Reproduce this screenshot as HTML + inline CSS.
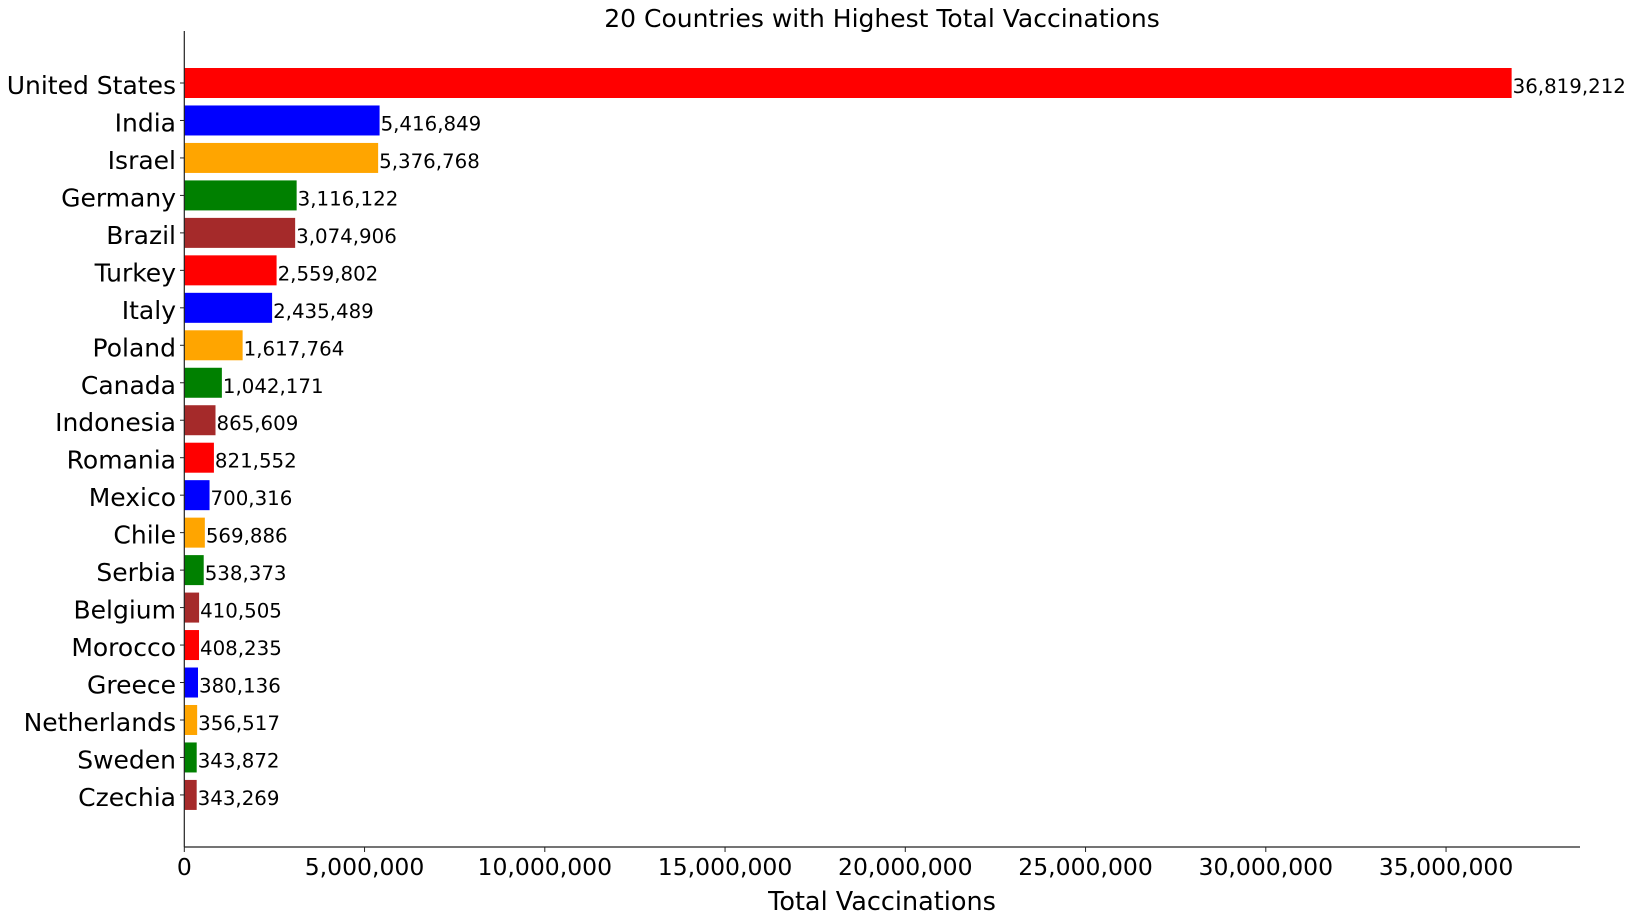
<!DOCTYPE html>
<html><head><meta charset="utf-8"><style>
html,body{margin:0;padding:0;background:#fff;}
svg{display:block;font-family:"DejaVu Sans","Liberation Sans",sans-serif;}
</style></head><body>
<svg id="chart" width="1634" height="919">
<text x="882" y="27" font-size="25" text-anchor="middle">20 Countries with Highest Total Vaccinations</text>
<g id="bars"></g>
<g id="yaxis"></g>
<g id="xaxis"></g>
<line x1="184.3" y1="31" x2="184.3" y2="847" stroke="#222" stroke-width="1.2"/>
<line x1="184.3" y1="847" x2="1580" y2="847" stroke="#222" stroke-width="1.2"/>
<text x="882" y="910" font-size="25.5" text-anchor="middle">Total Vaccinations</text>
</svg>
<script>
const countries = ["United States","India","Israel","Germany","Brazil","Turkey","Italy","Poland","Canada","Indonesia","Romania","Mexico","Chile","Serbia","Belgium","Morocco","Greece","Netherlands","Sweden","Czechia"];
const values = [36819212,5416849,5376768,3116122,3074906,2559802,2435489,1617764,1042171,865609,821552,700316,569886,538373,410505,408235,380136,356517,343872,343269];
const colors = ["red","blue","orange","green","brown"];
const xTicks = [0,5000000,10000000,15000000,20000000,25000000,30000000,35000000];
const NS="http://www.w3.org/2000/svg";
const x0=184.3, pxPer=36.05/1e6;
function xs(v){return x0+v*pxPer;}
function ys(i){return 83+i*37.47;}
function fmt(v){return v.toLocaleString('en-US');}
const bars=document.getElementById('bars'), ya=document.getElementById('yaxis'), xa=document.getElementById('xaxis');
countries.forEach((c,i)=>{
  const r=document.createElementNS(NS,'rect');
  r.setAttribute('x',x0);r.setAttribute('y',ys(i)-15);
  r.setAttribute('width',xs(values[i])-x0);r.setAttribute('height',30);
  r.setAttribute('fill',colors[i%5]);
  
  
  bars.appendChild(r);
  const t=document.createElementNS(NS,'text');
  t.setAttribute('x',xs(values[i])+1);t.setAttribute('y',ys(i)+10);
  t.setAttribute('font-size','19.8');t.textContent=fmt(values[i]);
  
  
  bars.appendChild(t);
  const l=document.createElementNS(NS,'text');
  l.setAttribute('x',176);l.setAttribute('y',ys(i)+11);
  l.setAttribute('font-size','25');l.setAttribute('text-anchor','end');l.textContent=c;
  
  
  ya.appendChild(l);
  const tk=document.createElementNS(NS,'line');
  tk.setAttribute('x1',180);tk.setAttribute('x2',184.3);tk.setAttribute('y1',ys(i));tk.setAttribute('y2',ys(i));
  tk.setAttribute('stroke','#222');
  
  
  ya.appendChild(tk);
});
xTicks.forEach(v=>{
  const tk=document.createElementNS(NS,'line');
  tk.setAttribute('x1',xs(v));tk.setAttribute('x2',xs(v));tk.setAttribute('y1',847);tk.setAttribute('y2',852);
  tk.setAttribute('stroke','#222');
  
  
  xa.appendChild(tk);
  const t=document.createElementNS(NS,'text');
  t.setAttribute('x',xs(v));t.setAttribute('y',875);t.setAttribute('font-size','23.5');
  t.setAttribute('text-anchor','middle');t.textContent=fmt(v);
  
  
  xa.appendChild(t);
});
</script>
</body></html>
